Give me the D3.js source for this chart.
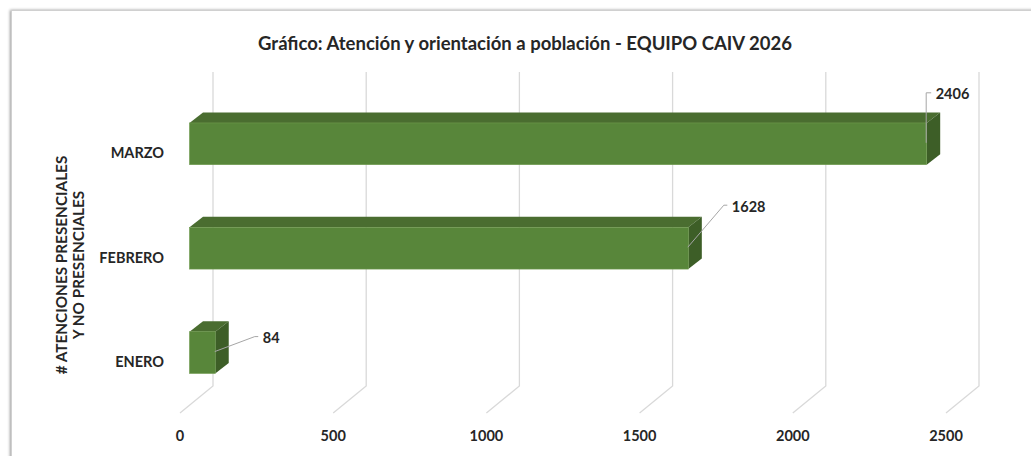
<!DOCTYPE html>
<html>
<head>
<meta charset="utf-8">
<script src="https://cdn.jsdelivr.net/npm/d3@7"></script>
<style>
	html, body { margin: 0; padding: 0; background: #ffffff; }
	svg { display: block; }
	text { font-family: Lato, 'Open Sans', sans-serif; font-weight: 700; fill: #262626; }
</style>
</head>
<body>
<div id="my_dataviz"></div>
<script>
// data
const categories = [ 'ENERO', 'FEBRERO', 'MARZO' ];
const values = [ 84, 1628, 2406 ];
const xTicks = [ 0, 500, 1000, 1500, 2000, 2500 ];
const titleText = 'Gráfico: Atención y orientación a población - EQUIPO CAIV 2026';
const yTitleLines = [ '# ATENCIONES PRESENCIALES', 'Y NO PRESENCIALES' ];

let dimensions = {
	width  : 1031,
	height : 456,
	floor  : { x: 180, y: 413 },   // front edge of the floor at value 0
	depth  : { x: 33, y: -27 },    // floor front -> back wall
	wallTop : 72,
	bar    : { front: 9.5, dx: 13.5, dy: -10.5 }
};

const svg = d3.select('#my_dataviz').append('svg').attr('width', dimensions.width).attr('height', dimensions.height);

const defs = svg.append('defs');
const shadow = defs.append('filter').attr('id', 'frame-shadow').attr('x', '-5%').attr('y', '-5%').attr('width', '110%').attr('height', '110%');
shadow.append('feDropShadow').attr('dx', -1).attr('dy', 0).attr('stdDeviation', 1.8).attr('flood-color', '#000').attr('flood-opacity', 0.4);

// chart frame
svg
	.append('rect')
	.attr('x', 11.5)
	.attr('y', 10.5)
	.attr('width', 1040)
	.attr('height', 470)
	.attr('fill', '#ffffff')
	.attr('stroke', '#d0d0d0')
	.attr('stroke-width', 1)
	.attr('filter', 'url(#frame-shadow)');

const x = d3.scaleLinear().domain([ 0, 2500 ]).range([ 0, 766 ]);

const y = d3
	.scaleBand()
	.domain(categories.slice().reverse())
	.range([ 60.3, 436.1 ])
	.padding(0.6);

// gridlines: floor diagonal + back wall vertical
const grid = svg.append('g').attr('class', 'grid');
grid
	.selectAll('path')
	.data(xTicks)
	.enter()
	.append('path')
	.attr('d', function(d) {
		const xf = dimensions.floor.x + x(d);
		const xb = xf + dimensions.depth.x;
		const yb = dimensions.floor.y + dimensions.depth.y;
		return 'M' + xf + ',' + dimensions.floor.y + 'L' + xb + ',' + yb + 'L' + xb + ',' + dimensions.wallTop;
	})
	.attr('fill', 'none')
	.attr('stroke', '#d9d9d9')
	.attr('stroke-width', 1.3);

// x tick labels
svg
	.append('g')
	.selectAll('text')
	.data(xTicks)
	.enter()
	.append('text')
	.attr('x', function(d) {
		return dimensions.floor.x + x(d);
	})
	.attr('y', 436)
	.attr('dy', '0.35em')
	.attr('text-anchor', 'middle')
	.attr('font-size', '14.5px')
	.text(function(d) {
		return d;
	});

// bars
const data = categories.map(function(c, i) {
	return { cat: c, value: values[i] };
});

const bx = function(v) {
	return dimensions.floor.x + dimensions.bar.front + x(v);
};
const dx = dimensions.bar.dx;
const dy = dimensions.bar.dy;

const bars = svg.append('g').attr('class', 'bars').selectAll('g').data(data).enter().append('g');

bars
	.append('path')
	.attr('fill', '#4a6d30')
	.attr('d', function(d) {
		const x0 = bx(0), x1 = bx(d.value), t = y(d.cat);
		return 'M' + x0 + ',' + t + 'L' + (x0 + dx) + ',' + (t + dy) + 'L' + (x1 + dx) + ',' + (t + dy) + 'L' + x1 + ',' + t + 'Z';
	});

bars
	.append('path')
	.attr('fill', '#3d5e27')
	.attr('d', function(d) {
		const x1 = bx(d.value), t = y(d.cat), b = t + y.bandwidth();
		return 'M' + x1 + ',' + t + 'L' + (x1 + dx) + ',' + (t + dy) + 'L' + (x1 + dx) + ',' + (b + dy) + 'L' + x1 + ',' + b + 'Z';
	});

bars
	.append('rect')
	.attr('x', bx(0))
	.attr('y', function(d) {
		return y(d.cat);
	})
	.attr('width', function(d) {
		return x(d.value);
	})
	.attr('height', y.bandwidth())
	.attr('fill', '#58863a')
	.attr('stroke', '#6f9a4e')
	.attr('stroke-width', 0.6);

// category labels
svg
	.append('g')
	.selectAll('text')
	.data(categories)
	.enter()
	.append('text')
	.attr('x', 164)
	.attr('y', function(d) {
		return y(d) + y.bandwidth() / 2 + 9.5;
	})
	.attr('dy', '0.35em')
	.attr('text-anchor', 'end')
	.attr('font-size', '14.5px')
	.text(function(d) {
		return d;
	});

// data labels with leader lines (label offsets from the bar end)
const labelOffsets = {
	ENERO   : { lx: 40, ly: -15, kink: 3.5 },
	FEBRERO : { lx: 36, ly: -42, kink: 3.5 },
	MARZO   : { lx: 0, ly: -50, kink: 5 }
};

const labels = svg.append('g').attr('class', 'labels').selectAll('g').data(data).enter().append('g');

labels
	.append('path')
	.attr('fill', 'none')
	.attr('stroke', '#a6a6a6')
	.attr('stroke-width', 1)
	.attr('d', function(d) {
		const o = labelOffsets[d.cat];
		const sx = bx(d.value) - 0.5;
		const sy = y(d.cat) + y.bandwidth() / 2 - 1;
		return 'M' + sx + ',' + sy + 'L' + (sx + o.lx) + ',' + (sy + o.ly) + 'L' + (sx + o.lx + o.kink) + ',' + (sy + o.ly);
	});

labels
	.append('text')
	.attr('x', function(d) {
		const o = labelOffsets[d.cat];
		return bx(d.value) + o.lx + o.kink + 4;
	})
	.attr('y', function(d) {
		const o = labelOffsets[d.cat];
		return y(d.cat) + y.bandwidth() / 2 - 1 + o.ly + 1.5;
	})
	.attr('dy', '0.35em')
	.attr('font-size', '14.5px')
	.text(function(d) {
		return d.value;
	});

// title
svg
	.append('text')
	.attr('x', 525)
	.attr('y', 44)
	.attr('dy', '0.35em')
	.attr('text-anchor', 'middle')
	.attr('font-size', '18.5px')
	.text(titleText);

// y axis title
svg
	.append('g')
	.attr('transform', 'translate(70,265) rotate(-90)')
	.selectAll('text')
	.data(yTitleLines)
	.enter()
	.append('text')
	.attr('x', 0)
	.attr('y', function(d, i) {
		return -8.5 + i * 17.5;
	})
	.attr('dy', '0.35em')
	.attr('text-anchor', 'middle')
	.attr('font-size', '15.3px')
	.text(function(d) {
		return d;
	});
</script>
</body>
</html>
